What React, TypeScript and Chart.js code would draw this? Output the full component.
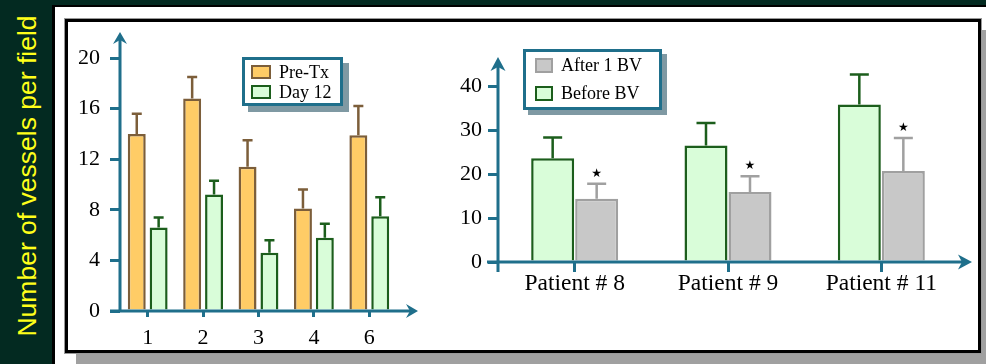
import React, { useEffect, useRef } from "react";
import { Chart, registerables } from "chart.js";
Chart.register(...registerables);

// ---------- data ----------
const yAxisTitle = "Number of vessels per field";

const leftCategories = ["1", "2", "3", "4", "6"];
const preTxLabel = "Pre-Tx";
const day12Label = "Day 12";
const preTxValues = [14.0, 16.8, 11.4, 8.1, 13.9];
const preTxErrors = [1.6, 1.7, 2.1, 1.5, 2.3];
const day12Values = [6.6, 9.2, 4.6, 5.8, 7.5];
const day12Errors = [0.8, 1.1, 1.0, 1.1, 1.5];
const leftYTicks = [0, 4, 8, 12, 16, 20];

const rightCategories = ["Patient # 8", "Patient # 9", "Patient # 11"];
const beforeBvLabel = "Before BV";
const afterBvLabel = "After 1 BV";
const beforeBvValues = [23.6, 26.5, 35.8];
const beforeBvErrors = [4.7, 5.1, 6.8];
const afterBvValues = [14.4, 15.9, 20.7];
const afterBvErrors = [3.4, 3.6, 7.5];
const afterBvMarks = ["★", "★", "★"];
const rightYTicks = [0, 10, 20, 30, 40];

// ---------- styles ----------
const TEAL = "#1f6f8b";
const SERIF = "'Liberation Serif', 'Times New Roman', serif";
const ORANGE = { fill: "#ffcc66", line: "#7c5e3a" };
const GREEN = { fill: "#d9fdd9", line: "#1c5e1c" };
const GRAY = { fill: "#c8c8c8", line: "#a0a0a0" };

function arrowHead(ctx: CanvasRenderingContext2D, x: number, y: number, dir: string, len: number, half: number, notch: number) {
  ctx.beginPath();
  if (dir === "up") {
    ctx.moveTo(x, y);
    ctx.lineTo(x + half, y + len);
    ctx.lineTo(x, y + len - notch);
    ctx.lineTo(x - half, y + len);
  } else {
    ctx.moveTo(x, y);
    ctx.lineTo(x - len, y - half);
    ctx.lineTo(x - len + notch, y);
    ctx.lineTo(x - len, y + half);
  }
  ctx.closePath();
  ctx.fill();
}

const errorBarsPlugin = {
  id: "errorBars",
  afterDatasetsDraw(chart: any, _args: any, opts: any) {
    const ctx = chart.ctx as CanvasRenderingContext2D;
    const yScale = chart.scales.y;
    ctx.save();
    chart.data.datasets.forEach((ds: any, i: number) => {
      if (!ds.errors) return;
      const meta = chart.getDatasetMeta(i);
      meta.data.forEach((bar: any, j: number) => {
        const top = yScale.getPixelForValue(ds.data[j] + ds.errors[j]);
        ctx.strokeStyle = ds.borderColor;
        ctx.lineWidth = opts.lineWidth;
        ctx.beginPath();
        ctx.moveTo(bar.x, bar.y);
        ctx.lineTo(bar.x, top);
        ctx.moveTo(bar.x - opts.cap / 2, top);
        ctx.lineTo(bar.x + opts.cap / 2, top);
        ctx.stroke();
        if (ds.marks && ds.marks[j]) {
          ctx.fillStyle = "#000";
          ctx.font = "12px 'DejaVu Sans'";
          ctx.textAlign = "center";
          ctx.textBaseline = "middle";
          ctx.fillText(ds.marks[j], bar.x, top - opts.markGap);
        }
      });
    });
    ctx.restore();
  },
};

const arrowAxesPlugin = {
  id: "arrowAxes",
  afterDatasetsDraw(chart: any, _args: any, opts: any) {
    const ctx = chart.ctx as CanvasRenderingContext2D;
    const a = chart.chartArea;
    const y0 = chart.scales.y.getPixelForValue(0);
    const xTip = a.right + opts.xOver;
    const yTip = a.top - opts.yOver;
    ctx.save();
    ctx.strokeStyle = TEAL;
    ctx.fillStyle = TEAL;
    ctx.lineWidth = 3;
    ctx.beginPath();
    ctx.moveTo(a.left - opts.xStart, y0);
    ctx.lineTo(xTip - 6, y0);
    ctx.moveTo(a.left, y0 + opts.yBelow);
    ctx.lineTo(a.left, yTip + 6);
    ctx.stroke();
    arrowHead(ctx, xTip, y0, "right", opts.len, opts.half, 4);
    arrowHead(ctx, a.left, yTip, "up", opts.len, opts.half, 4);
    ctx.restore();
  },
};

function axisGrid(tickLength: number) {
  return {
    display: true,
    drawOnChartArea: false,
    drawTicks: true,
    tickLength,
    color: TEAL,
    lineWidth: 3,
    offset: false,
  };
}

function leftConfig(): any {
  return {
    type: "bar",
    data: {
      labels: leftCategories,
      datasets: [
        { label: preTxLabel, data: preTxValues, errors: preTxErrors, backgroundColor: ORANGE.fill, borderColor: ORANGE.line, borderWidth: 2.5 },
        { label: day12Label, data: day12Values, errors: day12Errors, backgroundColor: GREEN.fill, borderColor: GREEN.line, borderWidth: 2.5 },
      ],
    },
    plugins: [errorBarsPlugin, arrowAxesPlugin],
    options: {
      responsive: false,
      animation: false,
      events: [],
      layout: { padding: { left: 0, right: 43, top: 36, bottom: 0 } },
      datasets: { bar: { categoryPercentage: 0.79, barPercentage: 0.82 } },
      plugins: {
        legend: { display: false },
        tooltip: { enabled: false },
        errorBars: { lineWidth: 2.5, cap: 10, markGap: 10 },
        arrowAxes: { xOver: 21, yOver: 26, xStart: 10, yBelow: 0, len: 12, half: 7 },
      },
      scales: {
        x: {
          offset: true,
          grid: axisGrid(6),
          border: { display: false },
          ticks: { color: "#000", font: { family: SERIF, size: 22 }, padding: 8, maxRotation: 0 },
          afterFit: (s: any) => { s.height = 39; },
        },
        y: {
          min: leftYTicks[0],
          max: leftYTicks[leftYTicks.length - 1],
          grid: axisGrid(10),
          border: { display: false },
          ticks: { color: "#000", font: { family: SERIF, size: 22 }, padding: 10 },
          afterBuildTicks: (s: any) => { s.ticks = leftYTicks.map((v) => ({ value: v })); },
          afterFit: (s: any) => { s.width = 50; },
        },
      },
    },
  };
}

function rightConfig(): any {
  return {
    type: "bar",
    data: {
      labels: rightCategories,
      datasets: [
        { label: beforeBvLabel, data: beforeBvValues, errors: beforeBvErrors, backgroundColor: GREEN.fill, borderColor: GREEN.line, borderWidth: 2.5 },
        { label: afterBvLabel, data: afterBvValues, errors: afterBvErrors, marks: afterBvMarks, backgroundColor: GRAY.fill, borderColor: GRAY.line, borderWidth: 2.5 },
      ],
    },
    plugins: [errorBarsPlugin, arrowAxesPlugin],
    options: {
      responsive: false,
      animation: false,
      events: [],
      layout: { padding: { left: 0, right: 20, top: 64, bottom: 0 } },
      datasets: { bar: { categoryPercentage: 0.574, barPercentage: 0.977 } },
      plugins: {
        legend: { display: false },
        tooltip: { enabled: false },
        errorBars: { lineWidth: 2.5, cap: 19, markGap: 10 },
        arrowAxes: { xOver: 14, yOver: 29, xStart: 11, yBelow: 10, len: 14, half: 7.5 },
      },
      scales: {
        x: {
          offset: true,
          grid: axisGrid(10),
          border: { display: false },
          ticks: { color: "#000", font: { family: SERIF, size: 23.5 }, padding: -2, maxRotation: 0 },
          afterFit: (s: any) => { s.height = 88; },
        },
        y: {
          min: rightYTicks[0],
          max: rightYTicks[rightYTicks.length - 1],
          grid: axisGrid(10),
          border: { display: false },
          ticks: { color: "#000", font: { family: SERIF, size: 22 }, padding: 6 },
          afterBuildTicks: (s: any) => { s.ticks = rightYTicks.map((v) => ({ value: v })); },
          afterFit: (s: any) => { s.width = 58; },
        },
      },
    },
  };
}

type LegendItem = { label: string; fill: string; line: string };

function Legend(props: {
  items: LegendItem[];
  left: number; top: number; width: number; height: number;
  rowTop: number; rowStep: number; swLeft: number; swW: number; swH: number; textLeft: number; shadow: number;
}) {
  const p = props;
  return (
    <div
      style={{
        position: "absolute", left: p.left, top: p.top, width: p.width, height: p.height,
        boxSizing: "border-box", border: `3px solid ${TEAL}`, background: "#fff",
        boxShadow: `${p.shadow}px ${p.shadow}px 0 #7f99a3`,
      }}
    >
      {p.items.map((it, i) => {
        const c = p.rowTop + i * p.rowStep;
        return (
          <React.Fragment key={it.label}>
            <div
              style={{
                position: "absolute", left: p.swLeft, top: c - p.swH / 2, width: p.swW, height: p.swH,
                boxSizing: "border-box", border: `2.5px solid ${it.line}`, background: it.fill,
              }}
            />
            <div
              style={{
                position: "absolute", left: p.textLeft, top: c - 10, height: 20, lineHeight: "20px",
                fontFamily: SERIF, fontSize: 18, color: "#000", whiteSpace: "nowrap",
              }}
            >
              {it.label}
            </div>
          </React.Fragment>
        );
      })}
    </div>
  );
}

export default function App() {
  const leftRef = useRef<HTMLCanvasElement>(null);
  const rightRef = useRef<HTMLCanvasElement>(null);

  useEffect(() => {
    const c1 = new Chart(leftRef.current as HTMLCanvasElement, leftConfig());
    const c2 = new Chart(rightRef.current as HTMLCanvasElement, rightConfig());
    return () => {
      c1.destroy();
      c2.destroy();
    };
  }, []);

  const leftItems: LegendItem[] = [
    { label: preTxLabel, ...ORANGE },
    { label: day12Label, ...GREEN },
  ];
  const rightItems: LegendItem[] = [
    { label: afterBvLabel, ...GRAY },
    { label: beforeBvLabel, ...GREEN },
  ];

  return (
    <div style={{ position: "absolute", left: 0, top: 0, width: 986, height: 364, background: "#032a21", overflow: "hidden" }}>
      <div
        style={{
          position: "absolute", left: 27, top: 176, transform: "translate(-50%, -50%) rotate(-90deg)",
          whiteSpace: "nowrap", fontFamily: "'Liberation Sans', Arial, sans-serif", fontSize: 26.5,
          color: "#ffff1a", lineHeight: "30px",
        }}
      >
        {yAxisTitle}
      </div>
      <div
        style={{
          position: "absolute", left: 52, top: 5, width: 1000, height: 400, boxSizing: "border-box",
          background: "#fff", borderLeft: "3px solid #000", borderTop: "2px solid #000",
        }}
      />
      <div style={{ position: "absolute", left: 76, top: 30, width: 916, height: 334, background: "#a0a0a0" }} />
      <div
        style={{
          position: "absolute", left: 65, top: 19, width: 916, height: 334, boxSizing: "border-box",
          background: "#fff", border: "3px solid #000", outline: "1px solid #999",
        }}
      />
      <canvas ref={leftRef} width={370} height={328} style={{ position: "absolute", left: 70, top: 22, width: 370, height: 328 }} />
      <canvas ref={rightRef} width={538} height={328} style={{ position: "absolute", left: 440, top: 22, width: 538, height: 328 }} />
      <Legend items={leftItems} left={242} top={57} width={101} height={49} rowTop={12} rowStep={20} swLeft={6} swW={20} swH={14} textLeft={34} shadow={6} />
      <Legend items={rightItems} left={523} top={49} width={139} height={61} rowTop={13} rowStep={28} swLeft={9} swW={18} swH={15} textLeft={35} shadow={5} />
    </div>
  );
}
